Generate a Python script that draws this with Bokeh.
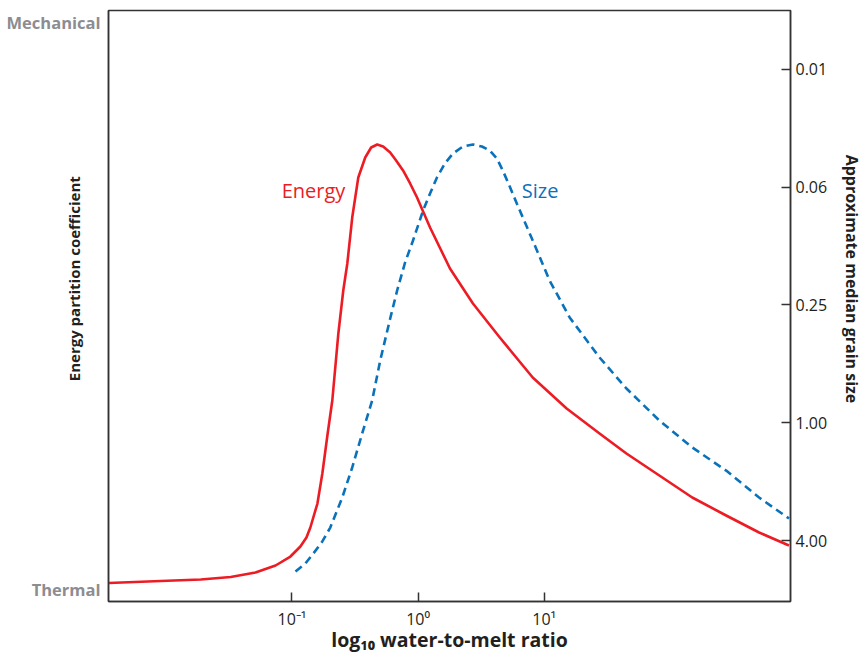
from bokeh.plotting import figure
from bokeh.models import Range1d, LinearAxis, FixedTicker
from bokeh.models import Label
from bokeh.embed import file_html
from bokeh.resources import INLINE

# x: log10 water-to-melt ratio
energy_x = [-2.451, -2.040, -1.723, -1.486, -1.289, -1.130, -1.012, -0.933, -0.885, -0.854,
            -0.798, -0.759, -0.719, -0.680, -0.632, -0.593, -0.561, -0.522, -0.474, -0.419,
            -0.372, -0.324, -0.277, -0.221, -0.174, -0.119, -0.063, -0.008, 0.040, 0.095,
            0.253, 0.435, 0.648, 0.909, 1.178, 1.439, 1.652, 1.913, 2.174, 2.443, 2.704, 2.941]
# energy partition coefficient (0 = thermal, 1 = mechanical)
energy_y = [0.0313, 0.0347, 0.0372, 0.0415, 0.0491, 0.0609, 0.0761, 0.0931, 0.1083, 0.1252,
            0.1658, 0.2166, 0.2809, 0.3401, 0.4535, 0.5262, 0.5719, 0.6497, 0.7174, 0.7513,
            0.7682, 0.7733, 0.7699, 0.7597, 0.7462, 0.7293, 0.7073, 0.6836, 0.6599, 0.6328,
            0.5635, 0.5042, 0.4467, 0.3790, 0.3266, 0.2843, 0.2504, 0.2132, 0.1760, 0.1455,
            0.1168, 0.0948]

size_x = [-0.972, -0.893, -0.830, -0.759, -0.696, -0.601, -0.522, -0.443, -0.364, -0.300,
          -0.221, -0.166, -0.103, -0.040, 0.040, 0.095, 0.150, 0.213, 0.277, 0.356,
          0.435, 0.506, 0.569, 0.625, 0.672, 0.727, 0.783, 0.909, 1.043, 1.202,
          1.439, 1.652, 1.913, 2.174, 2.443, 2.704, 2.941]
# approximate median grain size, as log4 exponent (0.01 ~ 4^-3 ... 4.00 = 4^1)
size_y = [1.263, 1.195, 1.110, 1.008, 0.890, 0.635, 0.380, 0.091, -0.189, -0.529,
          -0.885, -1.123, -1.361, -1.548, -1.803, -1.947, -2.083, -2.202, -2.287, -2.346,
          -2.363, -2.346, -2.312, -2.244, -2.142, -2.006, -1.862, -1.548, -1.208, -0.894,
          -0.554, -0.291, -0.019, 0.210, 0.406, 0.635, 0.813]

x_ticks = [-1, 0, 1]
x_tick_labels = ["10\u207b\u00b9", "10\u2070", "10\u00b9"]
left_ticks = [0.02, 0.98]
left_tick_labels = ["Thermal", "Mechanical"]
right_ticks = [-3, -2, -1, 0, 1]
right_tick_labels = ["0.01", "0.06", "0.25", "1.00", "4.00"]

RED = "#ED1C24"
BLUE = "#0A72BA"
AX = "#333333"
TXT = "#231f20"
GRAY = "#8C8C91"
FONT = "Open Sans"
PAD_L = "\u00a0" * 14
PAD_R = "\u00a0" * 13

p = figure(width=866, height=656, output_backend="svg", toolbar_location=None,
           x_range=Range1d(-2.4545, 2.953), y_range=Range1d(0, 1),
           min_border_left=108, min_border_right=74, min_border_top=10, min_border_bottom=55)
p.extra_y_ranges = {"size": Range1d(start=1.518, end=-3.501)}
p.grid.visible = False
p.outline_line_color = AX
p.outline_line_width = 1.5
p.background_fill_color = "white"
p.border_fill_color = "white"

# x axis
xa = p.xaxis[0]
xa.ticker = FixedTicker(ticks=x_ticks)
xa.major_label_overrides = {t: s for t, s in zip(x_ticks, x_tick_labels)}
xa.major_tick_in = 9
xa.major_tick_out = 0
xa.minor_tick_in = 0
xa.minor_tick_out = 0
xa.axis_line_color = AX
xa.axis_line_width = 1.5
xa.major_tick_line_color = AX
xa.major_tick_line_width = 1.5
xa.major_label_text_font = FONT
xa.major_label_text_font_size = "16px"
xa.major_label_text_color = TXT
xa.major_label_standoff = 6
xa.axis_label = "log\u2081\u2080 water-to-melt ratio"
xa.axis_label_text_font = FONT
xa.axis_label_text_font_size = "19.5px"
xa.axis_label_text_font_style = "bold"
xa.axis_label_text_color = TXT
xa.axis_label_standoff = -7

# left axis
ya = p.yaxis[0]
ya.ticker = FixedTicker(ticks=left_ticks)
ya.major_label_overrides = {t: s for t, s in zip(left_ticks, left_tick_labels)}
ya.major_tick_in = 0
ya.major_tick_out = 0
ya.minor_tick_in = 0
ya.minor_tick_out = 0
ya.axis_line_color = AX
ya.axis_line_width = 1.5
ya.major_label_text_font = FONT
ya.major_label_text_font_size = "16.5px"
ya.major_label_text_font_style = "bold"
ya.major_label_text_color = GRAY
ya.major_label_standoff = 8
ya.axis_label = PAD_L + "Energy partition coefficient"
ya.axis_label_text_font = FONT
ya.axis_label_text_font_size = "15px"
ya.axis_label_text_font_style = "bold"
ya.axis_label_text_color = TXT
ya.axis_label_standoff = -80

# right axis
ra = LinearAxis(y_range_name="size", ticker=FixedTicker(ticks=right_ticks))
ra.major_label_overrides = {t: s for t, s in zip(right_ticks, right_tick_labels)}
ra.major_tick_in = 9
ra.major_tick_out = 0
ra.minor_tick_in = 0
ra.minor_tick_out = 0
ra.axis_line_color = AX
ra.axis_line_width = 1.5
ra.major_tick_line_color = AX
ra.major_tick_line_width = 1.5
ra.major_label_text_font = FONT
ra.major_label_text_font_size = "16px"
ra.major_label_text_color = TXT
ra.major_label_standoff = 5
ra.axis_label = "Approximate median grain size" + PAD_R
ra.axis_label_text_font = FONT
ra.axis_label_text_font_size = "16px"
ra.axis_label_text_font_style = "bold"
ra.axis_label_text_color = TXT
ra.axis_label_standoff = 11
p.add_layout(ra, "right")

p.line(energy_x, energy_y, line_color=RED, line_width=2.6, line_join="round")
p.line(size_x, size_y, y_range_name="size", line_color=BLUE, line_width=2.6, line_dash="8 5")

p.add_layout(Label(x=-0.577, y=0.6954, text="Energy", text_color=RED, text_font=FONT,
                   text_font_size="20px", text_align="right", text_baseline="middle"))
p.add_layout(Label(x=0.822, y=0.6954, text="Size", text_color=BLUE, text_font=FONT,
                   text_font_size="20px", text_align="left", text_baseline="middle"))

open("out.html", "w").write(file_html(p, INLINE))
